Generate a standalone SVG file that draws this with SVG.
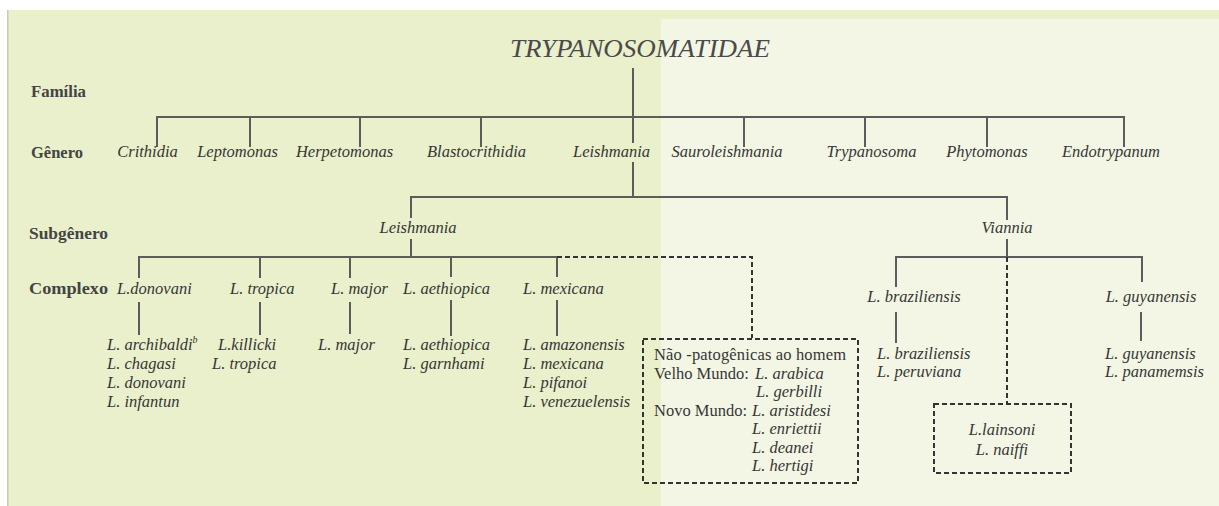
<svg xmlns="http://www.w3.org/2000/svg" width="1219" height="506" viewBox="0 0 1219 506">
<style>
text{font-family:"Liberation Serif","Times New Roman",serif;fill:#363636}
.lbl{font-weight:bold;font-size:16px;fill:#444}
.it{font-style:italic;font-size:16.5px}
.up{font-size:16.5px}
.ttl{font-style:italic;font-size:25px;fill:#4a4a4a}
.ln{stroke:#5c5c5c;stroke-width:2;fill:none}
.ds{stroke:#333;stroke-width:2;fill:none;stroke-dasharray:5 3}
</style>
<rect x="0" y="0" width="1219" height="506" fill="#ffffff"/>
<rect x="7" y="10" width="1212" height="496" fill="#e9f0cb"/>
<rect x="661" y="19" width="558" height="487" fill="#f3f6e5"/>
<rect x="7" y="10" width="1.5" height="496" fill="#c9cdb0"/>

<g id="row-labels">
<text class="lbl" x="31" y="97" textLength="55" lengthAdjust="spacingAndGlyphs">Família</text>
<text class="lbl" x="31" y="158" textLength="52" lengthAdjust="spacingAndGlyphs">Gênero</text>
<text class="lbl" x="29" y="239" textLength="79" lengthAdjust="spacingAndGlyphs">Subgênero</text>
<text class="lbl" x="29" y="294" textLength="79" lengthAdjust="spacingAndGlyphs">Complexo</text>
</g>

<g id="connectors">
<path class="ln" d="M633 68V143M157 147V117H1124V147M250 117V147M360 117V147M481 117V147M744 117V147M865 117V147M987 117V147"/>
<path class="ln" d="M633 162V197M411 218V197H1007V220"/>
<path class="ln" d="M411 239V257M139 278V257H557V277M260 257V278M350 257V278M451 257V277"/>
<path class="ln" d="M139 302V335M260 302V335M350 302V334M451 300V336M557 300V336"/>
<path class="ds" d="M557 257H752V338"/>
<path class="ln" d="M1007 239V257M896 287V257H1142V282"/>
<path class="ds" d="M1007 257V404"/>
<path class="ln" d="M896 312V343M1141 312V341"/>
</g>

<g id="family"><text class="ttl" x="510" y="57" textLength="260" lengthAdjust="spacingAndGlyphs">TRYPANOSOMATIDAE</text></g>

<g id="genera" text-anchor="middle">
<text class="it" x="147.5" y="157">Crithidia</text>
<text class="it" x="237.5" y="157">Leptomonas</text>
<text class="it" x="344.5" y="157">Herpetomonas</text>
<text class="it" x="476.5" y="157">Blastocrithidia</text>
<text class="it" x="611.5" y="157">Leishmania</text>
<text class="it" x="727" y="157">Sauroleishmania</text>
<text class="it" x="871.5" y="157">Trypanosoma</text>
<text class="it" x="987" y="157">Phytomonas</text>
<text class="it" x="1111" y="157">Endotrypanum</text>
</g>

<g id="subgenus-leishmania"><text class="it" x="418" y="233" text-anchor="middle">Leishmania</text></g>
<g id="subgenus-viannia"><text class="it" x="1007" y="233" text-anchor="middle">Viannia</text></g>

<g id="complex-donovani">
<text class="it" x="117" y="294">L.donovani</text>
<text class="it" x="107" y="350">L. archibaldi<tspan font-size="10" dy="-7">b</tspan></text>
<text class="it" x="107" y="369">L. chagasi</text>
<text class="it" x="107" y="388">L. donovani</text>
<text class="it" x="107" y="407">L. infantun</text>
</g>
<g id="complex-tropica">
<text class="it" x="230" y="294">L. tropica</text>
<text class="it" x="218" y="350">L.killicki</text>
<text class="it" x="212" y="369">L. tropica</text>
</g>
<g id="complex-major">
<text class="it" x="331" y="294">L. major</text>
<text class="it" x="318" y="350">L. major</text>
</g>
<g id="complex-aethiopica">
<text class="it" x="403" y="294">L. aethiopica</text>
<text class="it" x="403" y="350">L. aethiopica</text>
<text class="it" x="403" y="369">L. garnhami</text>
</g>
<g id="complex-mexicana">
<text class="it" x="523" y="294">L. mexicana</text>
<text class="it" x="523" y="350">L. amazonensis</text>
<text class="it" x="523" y="369">L. mexicana</text>
<text class="it" x="523" y="388">L. pifanoi</text>
<text class="it" x="523" y="407">L. venezuelensis</text>
</g>

<g id="box-nao-patogenicas">
<rect class="ds" x="643" y="339" width="215" height="144"/>
<text class="up" x="654" y="360" textLength="192">Não -patogênicas ao homem</text>
<text class="up" x="654" y="378.5">Velho Mundo: <tspan class="it" x="755">L. arabica</tspan></text>
<text class="it" x="756" y="397">L. gerbilli</text>
<text class="up" x="654" y="415.5">Novo Mundo: <tspan class="it" x="752">L. aristidesi</tspan></text>
<text class="it" x="752" y="434">L. enriettii</text>
<text class="it" x="752" y="452.5">L. deanei</text>
<text class="it" x="752" y="471">L. hertigi</text>
</g>

<g id="complex-braziliensis">
<text class="it" x="914" y="302" text-anchor="middle">L. braziliensis</text>
<text class="it" x="877" y="359">L. braziliensis</text>
<text class="it" x="877" y="377">L. peruviana</text>
</g>
<g id="complex-guyanensis">
<text class="it" x="1151" y="302" text-anchor="middle">L. guyanensis</text>
<text class="it" x="1105" y="359">L. guyanensis</text>
<text class="it" x="1105" y="377">L. panamemsis</text>
</g>

<g id="box-lainsoni">
<rect class="ds" x="934" y="404" width="137" height="69"/>
<text class="it" x="1002" y="435" text-anchor="middle">L.lainsoni</text>
<text class="it" x="1002" y="455" text-anchor="middle">L. naiffi</text>
</g>
</svg>
